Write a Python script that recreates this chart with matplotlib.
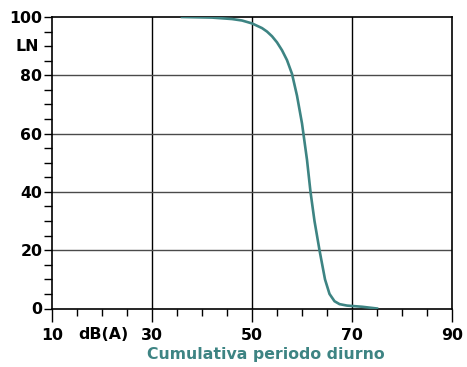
import matplotlib
matplotlib.use("Agg")
import matplotlib.pyplot as plt
from matplotlib.ticker import MultipleLocator
import matplotlib.transforms as mtransforms

# curva cumulativa (dB(A) -> % del tempo)
livelli = [36, 42, 46, 48, 50, 52, 53, 54, 55, 56, 57, 58, 59, 60, 61, 61.7,
           62.5, 63.5, 64.6, 65.5, 66.5, 67.5, 69, 72, 75]
percentuale = [100, 99.8, 99.3, 98.8, 97.8, 96.2, 95.0, 93.4, 91.3, 88.6,
               85.2, 80.5, 73, 63.5, 51, 40, 30, 20, 10, 5, 2.5, 1.5, 1.0,
               0.6, 0]

x_ticks = [10, 30, 50, 70, 90]
y_ticks = [0, 20, 40, 60, 80, 100]
teal = "#3d8483"
fs = 11.3

plt.rcParams['font.family'] = ['DejaVu Sans']
plt.rcParams['font.weight'] = 'bold'

fig = plt.figure(figsize=(4.67, 3.67), dpi=100)
ax = fig.add_axes([52 / 467, 1 - 308.5 / 367, 400 / 467, 291.5 / 367])

ax.plot(livelli, percentuale, color=teal, lw=1.9, zorder=3)

ax.set_xlim(10, 90)
ax.set_ylim(0, 100)
ax.set_xticks(x_ticks)
ax.set_yticks(y_ticks)
ax.xaxis.set_minor_locator(MultipleLocator(5))
ax.yaxis.set_minor_locator(MultipleLocator(5))

for x in [30, 50, 70]:
    ax.axvline(x, color="black", lw=1, zorder=1)
for y in [20, 40, 60, 80]:
    ax.axhline(y, color="#4a4a4a", lw=1, zorder=1)

for s in ax.spines.values():
    s.set_color("black")
    s.set_linewidth(1.2)

ax.tick_params(axis='x', which='major', direction='out', length=9.5, width=1,
               labelsize=fs, pad=4.5)
ax.tick_params(axis='x', which='minor', direction='out', length=5, width=1)
ax.tick_params(axis='y', which='both', direction='out', length=6, width=1,
               labelsize=fs, pad=1)
for lab in ax.get_xticklabels() + ax.get_yticklabels():
    lab.set_fontweight('bold')

# etichette di unità sulle tacche secondarie
tx = mtransforms.blended_transform_factory(ax.transData, ax.transAxes)
ax.text(20.2, -0.088, "dB(A)", transform=tx, ha='center', va='center',
        fontsize=fs, fontweight='bold')
ty = mtransforms.blended_transform_factory(ax.transAxes, ax.transData)
ax.text(-0.033, 90, "LN", transform=ty, ha='right', va='center',
        fontsize=fs, fontweight='bold')

fig.text(266 / 467, 1 - 355 / 367, "Cumulativa periodo diurno", color=teal,
         ha='center', va='center', fontsize=fs, fontweight='bold')

fig.savefig("out.png", dpi=100)
